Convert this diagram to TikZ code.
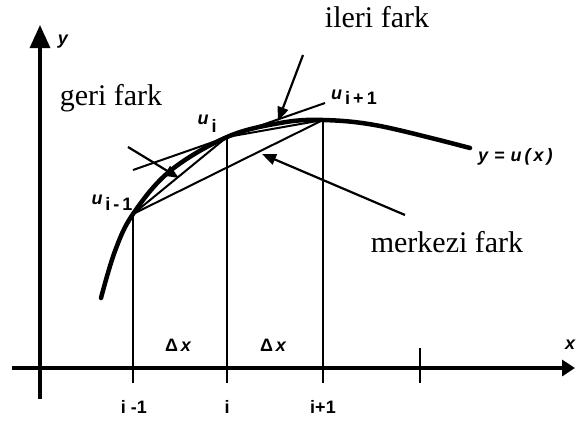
\documentclass[tikz,border=0pt]{standalone}
\usepackage{fontspec}
\setmainfont{Liberation Serif}
\setsansfont{Liberation Sans}
\usetikzlibrary{arrows.meta}
\begin{document}
\begin{tikzpicture}[x=1pt,y=-1pt,
  curveline/.style={line width=4.5pt, line cap=round},
  axisline/.style={line width=3.2pt},
  chord/.style={line width=2pt},
  vline/.style={line width=1.5pt},
  pointer/.style={line width=2.2pt, -{Triangle[length=14pt,width=11pt]}},
  serlbl/.style={font=\fontsize{30}{34}\selectfont, inner sep=0pt, anchor=base},
  sanlbl/.style={font=\sffamily\bfseries\fontsize{18}{20}\selectfont, inner sep=0pt},
  ulbl/.style={font=\sffamily\bfseries\fontsize{18}{20}\selectfont, inner sep=0pt}]
\useasboundingbox (0,0) rectangle (577,421);
% points
\coordinate (um) at (133,214);
\coordinate (u0) at (227,137);
\coordinate (up) at (323,120);
\coordinate (tm) at (133,383);
\coordinate (t0) at (227,383);
\coordinate (tp) at (323,383);
\coordinate (t4a) at (420,348);
\coordinate (t4b) at (420,383);
\coordinate (yb) at (40,399);
\coordinate (yt) at (40,25);
\coordinate (xa) at (12,368);
\coordinate (xb) at (575,368);
\coordinate (tgA) at (133,170);
\coordinate (tgB) at (325,103);
% axes
\draw[axisline, -{Triangle[length=23pt,width=20pt]}] (yb) -- (yt);
\draw[axisline, -{Triangle[length=13pt,width=16pt]}] (xa) -- (xb);
\draw[vline] (t4a) -- (t4b);
% vertical lines
\draw[vline] (um) -- (tm);
\draw[vline] (u0) -- (t0);
\draw[vline] (up) -- (tp);
% curve
\draw[curveline] plot[smooth, tension=0.6] coordinates {(101,298) (115,251) (133,214) (170,171) (227,137) (280,123) (323,120) (380,126) (470,148)};
% chords and tangent
\draw[chord] (um) -- (u0);
\draw[chord] (u0) -- (up);
\draw[chord] (um) -- (up);
\draw[chord] (tgA) -- (tgB);
% pointers
\coordinate (gA) at (128,147);
\coordinate (gB) at (179,178);
\coordinate (iA) at (303,55);
\coordinate (iB) at (278,121);
\coordinate (mA) at (405,215);
\coordinate (mB) at (262,154);
\draw[pointer] (gA) -- (gB);
\draw[pointer] (iA) -- (iB);
\draw[pointer] (mA) -- (mB);
% serif labels
\node[serlbl] (geri) at (111,105) {geri fark};
\node[serlbl] (ileri) at (377,27) {ileri fark};
\node[serlbl] (merk) at (447,252) {merkezi fark};
% sans labels
\node[sanlbl] (ylab) at (63,42) {\itshape y};
\node[sanlbl] (xlab) at (570,345) {\itshape x};
\node[sanlbl] (dx1) at (178,345) {Δ\,\itshape x};
\node[sanlbl] (dx2) at (273,345) {Δ\,\itshape x};
\node[sanlbl] (lm) at (134,407) {i -1};
\node[sanlbl] (l0) at (227,407) {i};
\node[sanlbl] (lp) at (323,407) {i+1};
\node[ulbl] (ulm) at (112,203) {\itshape u\,\raisebox{-6pt}{\upshape i\,-\,1}};
\node[ulbl] (ul0) at (207,124) {\itshape u\,\raisebox{-8pt}{\upshape i}};
\node[ulbl] (ulp) at (354,97) {\itshape u\,\raisebox{-5pt}{\upshape i\,+\,1}};
\node[ulbl, anchor=west] (yux) at (478,157) {\itshape y\,\,=\,\,u\,(\,x\,)};
\end{tikzpicture}
\end{document}
